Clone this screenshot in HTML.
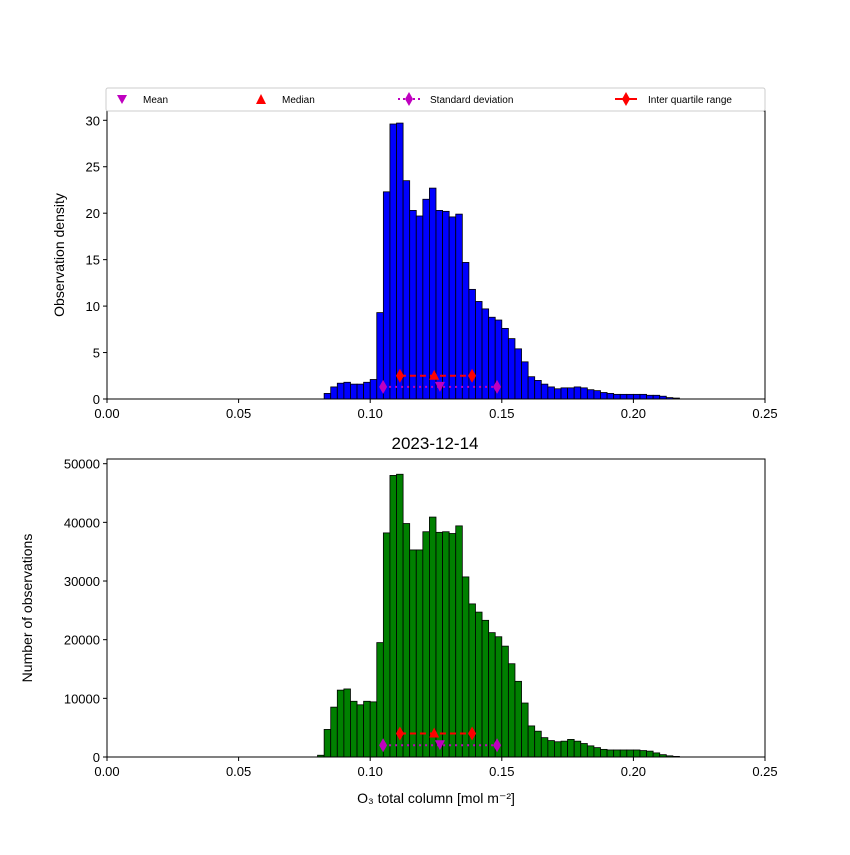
<!DOCTYPE html>
<html><head><meta charset="utf-8"><style>body{margin:0;background:#fff}svg{font-family:"Liberation Sans","DejaVu Sans",sans-serif}</style></head>
<body>
<svg id="c" width="850" height="850" xmlns="http://www.w3.org/2000/svg"></svg>
<script>
const binStart = 0.0825, binWidth = 0.0025;
const densityValues = [0.6,1.3,1.7,1.8,1.6,1.6,1.8,2.1,9.3,22.3,29.6,29.7,23.5,20.3,19.7,21.5,22.7,20.3,20.2,19.6,19.9,14.7,11.8,10.5,9.7,8.8,8.5,7.6,6.5,5.4,4.0,2.4,2.0,1.6,1.3,1.1,1.2,1.2,1.3,1.2,1.0,0.9,0.7,0.6,0.5,0.5,0.5,0.5,0.5,0.4,0.4,0.3,0.15,0.1];
const countStart = 0.08;
const countValues = [300,4700,8500,11400,11600,9500,8900,9500,9400,19500,38200,48000,48200,39800,35300,35300,38400,40900,38300,38400,38100,39400,30700,26100,24700,23300,21200,20500,18900,15900,12900,9200,5300,4400,3300,2800,2600,2700,3000,2700,2300,1900,1600,1300,1200,1200,1200,1200,1200,1100,1000,700,400,200,100];
const xTicks = [0,0.05,0.1,0.15,0.2,0.25];
const yTicksTop = [0,5,10,15,20,25,30];
const yTicksBot = [0,10000,20000,30000,40000,50000];
const stats = {mean:0.1265, median:0.1243, q1:0.1113, q3:0.1387, sdLo:0.1049, sdHi:0.1482};
const markerYTop = {iqr:2.5, sd:1.3};
const markerYBot = {iqr:4000, sd:2000};

const svg = document.getElementById('c');
const NS = 'http://www.w3.org/2000/svg';
function mk(tag, attrs, parent){const e=document.createElementNS(NS,tag);for(const k in attrs)e.setAttribute(k,attrs[k]);(parent||svg).appendChild(e);return e;}
const X0=107,X1=765;
const xs = v => X0 + v/0.25*(X1-X0);

function panel(top,bot,ymax,ticks,vals,start,color,ylabel,name,my){
  const ys = v => bot - v/ymax*(bot-top);
  const g = mk('g',{});
  
  
  vals.forEach((v,i)=>{
    const x=xs(start+i*binWidth), w=xs(start+(i+1)*binWidth)-x;
    const r=mk('rect',{x:x,y:ys(v),width:w,height:bot-ys(v),fill:color,stroke:'#000','stroke-width':0.8},g);
    
    
  });
  // markers
  mk('line',{x1:xs(stats.q1),x2:xs(stats.q3),y1:ys(my.iqr),y2:ys(my.iqr),stroke:'red','stroke-width':2,'stroke-dasharray':'6,4'},g);
  mk('line',{x1:xs(stats.sdLo),x2:xs(stats.sdHi),y1:ys(my.sd),y2:ys(my.sd),stroke:'#bf00bf','stroke-width':2,'stroke-dasharray':'2,4'},g);
  const dia=(x,y,c)=>mk('polygon',{points:`${x},${y-7} ${x+4},${y} ${x},${y+7} ${x-4},${y}`,fill:c},g);
  dia(xs(stats.q1),ys(my.iqr),'red');dia(xs(stats.q3),ys(my.iqr),'red');
  dia(xs(stats.sdLo),ys(my.sd),'#bf00bf');dia(xs(stats.sdHi),ys(my.sd),'#bf00bf');
  let mx=xs(stats.median),myy=ys(my.iqr);
  mk('polygon',{points:`${mx},${myy-6} ${mx+5},${myy+4} ${mx-5},${myy+4}`,fill:'red'},g);
  mx=xs(stats.mean);myy=ys(my.sd);
  mk('polygon',{points:`${mx-5},${myy-5} ${mx+5},${myy-5} ${mx},${myy+5}`,fill:'#bf00bf'},g);
  mk('rect',{x:X0,y:top,width:X1-X0,height:bot-top,fill:'none',stroke:'#000','stroke-width':1},g);
  xTicks.forEach(t=>{mk('line',{x1:xs(t),x2:xs(t),y1:bot,y2:bot+4,stroke:'#000'},g);
    const tx=mk('text',{x:xs(t),y:bot+19,'font-size':13,'text-anchor':'middle'},g);tx.textContent=t.toFixed(2);});
  ticks.forEach(t=>{mk('line',{x1:X0-4,x2:X0,y1:ys(t),y2:ys(t),stroke:'#000'},g);
    const tx=mk('text',{x:X0-7,y:ys(t)+5,'font-size':13,'text-anchor':'end'},g);tx.textContent=t;});
  const yl=mk('text',{x:0,y:0,'font-size':14,'text-anchor':'middle',transform:`translate(${name==='top-panel'?64:32},${(top+bot)/2}) rotate(-90)`},g);
  yl.textContent=ylabel;
  
  
}
panel(111,399,31,yTicksTop,densityValues,binStart,'#0000ff','Observation density','top-panel',markerYTop);
panel(459,757,50800,yTicksBot,countValues,countStart,'#008000','Number of observations','bottom-panel',markerYBot);
</script>
<svg width="850" height="850" style="position:absolute;left:0;top:0" xmlns="http://www.w3.org/2000/svg">
<text x="435" y="449" font-size="17" text-anchor="middle">2023-12-14</text>
<text x="436" y="803" font-size="14" text-anchor="middle">O₃ total column [mol m⁻²]</text>
<g>
<rect x="106" y="88" width="659" height="23" rx="2" fill="#fff" stroke="#ccc"/>
<g><polygon points="117,95 127,95 122,104" fill="#bf00bf"/><text x="143" y="103" font-size="10">Mean</text></g>
<g><polygon points="261,94 266,104 256,104" fill="red"/><text x="282" y="103" font-size="10">Median</text></g>
<g><line x1="398" x2="420" y1="99" y2="99" stroke="#bf00bf" stroke-width="2" stroke-dasharray="2,3"/><polygon points="409,92 413,99 409,106 405,99" fill="#bf00bf"/><text x="430" y="103" font-size="10">Standard deviation</text></g>
<g><line x1="615" x2="637" y1="99" y2="99" stroke="red" stroke-width="2"/><polygon points="626,92 630,99 626,106 622,99" fill="red"/><text x="648" y="103" font-size="10">Inter quartile range</text></g>
</g>
</svg>
</body></html>
